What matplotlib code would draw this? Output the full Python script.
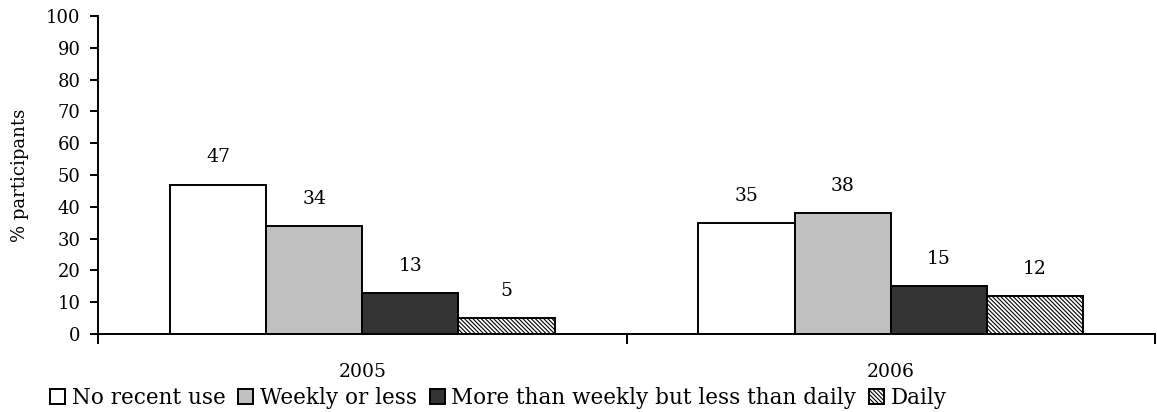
import matplotlib
matplotlib.use("Agg")
import matplotlib.pyplot as plt
import numpy as np

plt.rcParams['font.family'] = ['DejaVu Serif']
plt.rcParams['hatch.linewidth'] = 0.8

years = ["2005", "2006"]
series = ["No recent use", "Weekly or less", "More than weekly but less than daily", "Daily"]
values = [
    [47, 35],
    [34, 38],
    [13, 15],
    [5, 12],
]
colors = ["white", "#c0c0c0", "#333333", "white"]
hatches = [None, None, None, "\\" * 8]

fig = plt.figure(figsize=(11.57, 4.12), dpi=100)
ax = fig.add_axes([98/1157, 78/412, (1155-98)/1157, (334-16)/412])

n = len(series)
bw = 0.182
x = np.arange(len(years))
for i, (name, vals) in enumerate(zip(series, values)):
    pos = x + (i - (n - 1) / 2) * bw
    bars = ax.bar(pos, vals, width=bw, color=colors[i], edgecolor="black",
                  linewidth=1.4, hatch=hatches[i], label=name, zorder=2)
    for b, v in zip(bars, vals):
        ax.annotate(str(v), (b.get_x() + b.get_width() / 2, v),
                    xytext=(0, 13), textcoords="offset points",
                    ha="center", va="bottom", fontsize=13.5)

ax.set_xlim(-0.5, 1.5)
ax.set_ylim(0, 100)
ax.set_yticks(np.arange(0, 101, 10))
ax.tick_params(axis="y", direction="out", length=5.5, width=1.4, labelsize=13, pad=7)
ax.set_xticks([-0.5, 0.5, 1.5])
ax.set_xticklabels([])
ax.tick_params(axis="x", direction="out", length=7, width=1.4)
for xi, y in zip(x, years):
    ax.text(xi, -0.09, y, transform=ax.get_xaxis_transform(), ha="center",
            va="top", fontsize=13.5)
ax.spines["top"].set_visible(False)
ax.spines["right"].set_visible(False)
ax.spines["left"].set_linewidth(1.4)
ax.spines["bottom"].set_linewidth(1.4)
ax.set_ylabel("% participants", fontsize=13, labelpad=12)

leg = fig.legend(loc="center left", bbox_to_anchor=(50/1157, 1 - 398/412), ncol=4,
                 frameon=False, fontsize=15.5, handlelength=0.7, handleheight=0.7,
                 handletextpad=0.3, columnspacing=0.6, borderaxespad=0,
                 borderpad=0)

fig.savefig("out.png", dpi=100)
